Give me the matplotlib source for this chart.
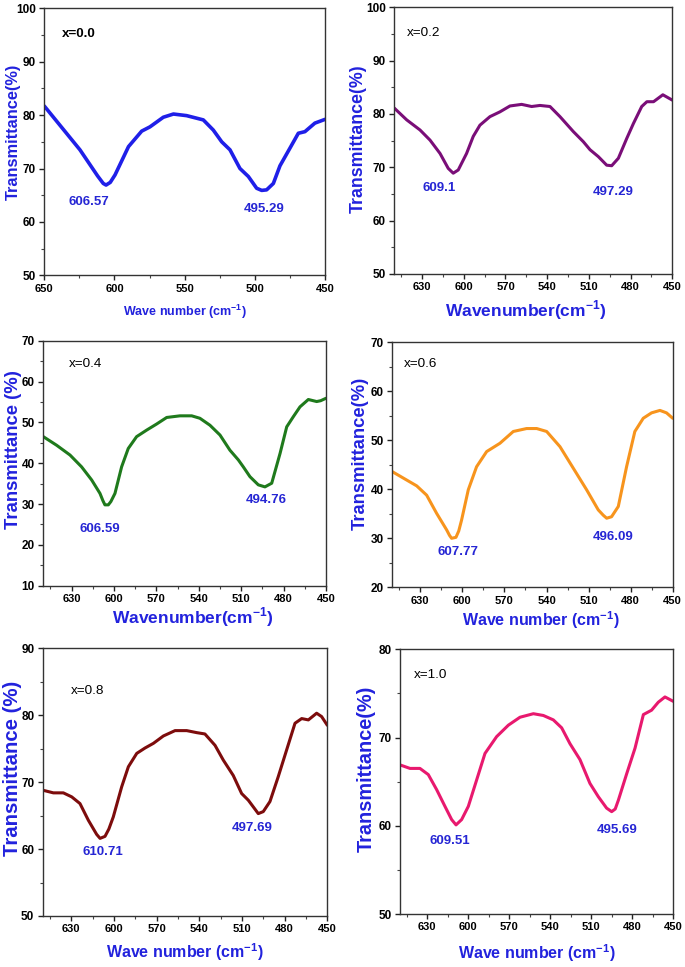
import matplotlib
matplotlib.use("Agg")
import matplotlib.pyplot as plt
from matplotlib.ticker import MultipleLocator, FixedLocator

plt.rcParams['font.family'] = ['Liberation Sans', 'DejaVu Sans']
plt.rcParams['mathtext.fontset'] = 'custom'
plt.rcParams['mathtext.rm'] = 'Liberation Sans'
plt.rcParams['mathtext.bf'] = 'Liberation Sans:bold'

W, H = 685, 967

# ---------------- data ----------------
x00 = [650, 624.6, 612, 608, 606, 603, 599.6, 590, 580.6, 574.7, 565.2, 558, 548.6, 536.7, 529.6,
       523.6, 517.7, 510.6, 504.6, 498.7, 495.1, 491.6, 486.8, 482.1, 475, 469, 464.3, 457.2, 450]
y00 = [81.7, 73.5, 68.6, 67.2, 66.9, 67.4, 68.8, 74.1, 77.0, 77.8, 79.6, 80.2, 79.9, 79.1, 77.2,
       75.0, 73.5, 70.0, 68.5, 66.3, 65.9, 66.0, 67.2, 70.5, 73.8, 76.6, 76.9, 78.5, 79.2]

x02 = [650, 641.1, 631.5, 624.3, 617.1, 611.2, 607.6, 604, 598, 593.2, 588.4, 581.2, 574, 566.8,
       558.4, 551.2, 545.2, 538, 530.8, 521.2, 514, 509.2, 503.2, 497.2, 493.6, 488.8, 482.8,
       478, 472, 468.3, 463.5, 456.8, 450]
y02 = [81.1, 78.9, 77.0, 75.1, 72.6, 69.8, 68.9, 69.5, 72.6, 75.8, 77.9, 79.5, 80.4, 81.5,
       81.8, 81.4, 81.6, 81.4, 79.5, 76.7, 74.8, 73.3, 72.0, 70.4, 70.3, 71.7, 75.4,
       78.2, 81.4, 82.3, 82.3, 83.6, 82.6]

x04 = [650, 640.6, 631.1, 622.9, 615.8, 609.9, 607.8, 606.4, 604, 602.2, 599.3, 594.6, 589.9, 584,
       576.9, 569.8, 562.7, 553.3, 545, 539.2, 532.1, 525, 518, 512, 508.5, 503.8, 497.9, 493.2,
       488.4, 482.5, 477.8, 473.1, 468.4, 462.5, 456.6, 453.8, 450]
y04 = [46.5, 44.4, 42.0, 39.1, 35.9, 32.6, 30.8, 29.8, 29.8, 30.6, 32.6, 39.1, 43.6, 46.5,
       48.1, 49.6, 51.2, 51.6, 51.6, 51.0, 49.3, 46.9, 43.2, 40.8, 39.1, 36.7, 34.7, 34.2,
       35.1, 42.4, 48.9, 51.4, 53.8, 55.6, 55.1, 55.3, 55.9]

x06 = [650, 639.8, 632.6, 625.5, 618.4, 611.2, 609.2, 607.7, 604.6, 602.6, 600.6, 595.8, 589.9,
       582.7, 573.2, 563.7, 554.2, 547.0, 539.9, 530.4, 520.9, 511.4, 503.1, 499.5, 497.1, 493.6,
       488.8, 482.9, 477, 471, 465.1, 459.1, 454.4, 450]
y06 = [43.6, 41.9, 40.7, 38.8, 35.1, 31.7, 30.6, 30.0, 30.2, 31.5, 33.7, 39.9, 44.6,
       47.7, 49.4, 51.8, 52.4, 52.4, 51.8, 48.7, 44.3, 39.9, 35.8, 34.7, 34.1, 34.4,
       36.5, 44.6, 51.8, 54.5, 55.6, 56.1, 55.6, 54.5]

x08 = [650, 642.5, 635.5, 629.6, 623.8, 617.9, 612.1, 609.7, 606.2, 603.5, 600.4, 594.5, 589.8,
       583.9, 578.1, 572.2, 565.2, 557.0, 548.8, 541.8, 536.0, 528.9, 523.1, 516.1, 510.2, 505.5,
       498.5, 495.0, 490.3, 484.5, 478.6, 472.7, 468.0, 463.3, 457.5, 454.0, 450]
y08 = [68.8, 68.4, 68.4, 67.8, 66.8, 64.3, 62.2, 61.6, 61.9, 63.0, 64.8, 69.3, 72.3,
       74.3, 75.1, 75.8, 76.9, 77.7, 77.7, 77.4, 77.2, 75.5, 73.3, 71.0, 68.3, 67.3,
       65.3, 65.6, 67.1, 70.8, 74.8, 78.8, 79.5, 79.3, 80.3, 79.8, 78.5]

x10 = [650, 642.7, 635.4, 629.3, 623.2, 617.1, 612.2, 609.0, 604.9, 600.0, 593.9, 587.8, 579.3,
       570.7, 562.2, 552.4, 545.1, 537.8, 531.7, 525.6, 518.3, 511.0, 504.9, 498.8, 495.1, 492.5,
       490.2, 484.1, 478.0, 471.9, 465.9, 461.0, 456.1, 450]
y10 = [66.9, 66.5, 66.5, 65.8, 64.1, 62.2, 60.7, 60.1, 60.7, 62.2, 65.2, 68.2, 70.1,
       71.4, 72.3, 72.7, 72.5, 72.0, 71.1, 69.3, 67.5, 64.8, 63.3, 62.0, 61.6, 61.9,
       62.9, 65.9, 68.8, 72.6, 73.1, 74.0, 74.6, 74.1]

sample_labels = ["x=0.0", "x=0.2", "x=0.4", "x=0.6", "x=0.8", "x=1.0"]
peak_labels = [("606.57", "495.29"), ("609.1", "497.29"), ("606.59", "494.76"),
               ("607.77", "496.09"), ("610.71", "497.69"), ("609.51", "495.69")]
y_labels = ["Transmittance(%)", "Transmittance(%)", "Transmittance (%)",
            "Transmittance(%)", "Transmittance (%)", "Transmittance(%)"]
x_labels = [r"Wave number (cm$^{\mathbf{-1}}$)", r"Wavenumber(cm$^{\mathbf{-1}}$)",
            r"Wavenumber(cm$^{\mathbf{-1}}$)", r"Wave number (cm$^{\mathbf{-1}}$)",
            r"Wave number (cm$^{\mathbf{-1}}$)", r"Wave number (cm$^{\mathbf{-1}}$)"]

# ---------------- layout / style ----------------
panels = [
    dict(x=x00, y=y00, box=(44.3, 8.3, 325, 275.3), ylim=(50, 100), color='#1f1fe8',
         xmaj=[650, 600, 550, 500, 450], xmin=25, ylfs=11.8, xlfs=9, lw=2.6,
         ylpos=(13, 132), xlpos=(185, 312),
         sl_pos=(637.6, 95.1), sl_bold=True,
         pk=((618.4, 63.8), (493.5, 62.5))),
    dict(x=x02, y=y02, box=(394.3, 7.3, 672.3, 274), ylim=(50, 100), color='#7a0e78',
         xmaj=[630, 600, 570, 540, 510, 480, 450], xmin=15, ylfs=12.8, xlfs=12.5, lw=2.2,
         ylpos=(358, 139), xlpos=(526, 310),
         sl_pos=(641.1, 95.1), sl_bold=False,
         pk=((617.9, 66.1), (492.4, 65.3))),
    dict(x=x04, y=y04, box=(43.3, 340.7, 326, 585.7), ylim=(10, 70), color='#1f7a1c',
         xmaj=[630, 600, 570, 540, 510, 480, 450], xmin=15, ylfs=13.3, xlfs=12.5, lw=2.2,
         ylpos=(14, 450), xlpos=(193, 617),
         sl_pos=(631.6, 64.4), sl_bold=False,
         pk=((609.9, 23.8), (492.2, 31.0))),
    dict(x=x06, y=y06, box=(392.3, 342.3, 672.7, 587.3), ylim=(20, 70), color='#f7941d',
         xmaj=[630, 600, 570, 540, 510, 480, 450], xmin=15, ylfs=13.2, xlfs=11.5, lw=2.2,
         ylpos=(360, 453), xlpos=(541, 620),
         sl_pos=(641.7, 65.5), sl_bold=False,
         pk=((602.9, 27.3), (492.8, 30.3))),
    dict(x=x08, y=y08, box=(42.7, 648.3, 327.3, 916), ylim=(50, 90), color='#7d0c0c',
         xmaj=[630, 600, 570, 540, 510, 480, 450], xmin=15, ylfs=14.7, xlfs=11.5, lw=2.2,
         ylpos=(13, 768), xlpos=(185, 952),
         sl_pos=(630.3, 83.6), sl_bold=False,
         pk=((607.4, 59.6), (502.7, 63.1))),
    dict(x=x10, y=y10, box=(400, 649.3, 673.3, 914), ylim=(50, 80), color='#e8196e',
         xmaj=[630, 600, 570, 540, 510, 480, 450], xmin=15, ylfs=14.3, xlfs=11.5, lw=2.2,
         ylpos=(366, 769), xlpos=(537, 953),
         sl_pos=(639.8, 77.1), sl_bold=False,
         pk=((613.4, 58.3), (491.0, 59.5))),
]

label_blue = '#2222dd'
peak_blue = '#2626d4'

fig = plt.figure(figsize=(W / 100, H / 100), dpi=100)

for i, p in enumerate(panels):
    l, t, r, b = p['box']
    ax = fig.add_axes([l / W, 1 - b / H, (r - l) / W, (b - t) / H])
    ax.plot(p['x'], p['y'], color=p['color'], lw=p['lw'], solid_joinstyle='round',
            solid_capstyle='round')
    ax.set_xlim(650, 450)
    ax.set_ylim(*p['ylim'])
    ax.xaxis.set_major_locator(FixedLocator(p['xmaj']))
    ax.xaxis.set_minor_locator(MultipleLocator(p['xmin']))
    ax.yaxis.set_major_locator(MultipleLocator(10))
    ax.yaxis.set_minor_locator(MultipleLocator(5))
    ax.tick_params(which='major', direction='out', length=3.5, width=1, colors='#222222',
                   top=False, right=False, pad=2.5)
    ax.tick_params(which='minor', direction='out', length=2.2, width=0.8,
                   top=False, right=False, colors='#444444')
    ax.tick_params(axis='y', labelsize=8.5)
    ax.tick_params(axis='x', labelsize=8)
    for lab in ax.get_xticklabels() + ax.get_yticklabels():
        lab.set_fontweight('bold')
        lab.set_color('black')
    for s in ax.spines.values():
        s.set_color('#333333')
        s.set_linewidth(1.0)
    ax.set_ylabel(y_labels[i], color=label_blue, fontsize=p['ylfs'], fontweight='bold')
    ax.set_xlabel(x_labels[i], color=label_blue, fontsize=p['xlfs'], fontweight='bold')
    yx, yy = p['ylpos']
    ax.yaxis.set_label_coords((yx - l) / (r - l), (b - yy) / (b - t))
    ax.yaxis.label.set_va('center')
    xx, xy = p['xlpos']
    ax.xaxis.set_label_coords((xx - l) / (r - l), (b - xy) / (b - t))
    ax.xaxis.label.set_va('center')
    sx, sy = p['sl_pos']
    ax.text(sx, sy, sample_labels[i], fontsize=9.7,
            fontweight='bold' if p['sl_bold'] else 'normal', color='black',
            ha='left', va='center')
    for (px, py), txt in zip(p['pk'], peak_labels[i]):
        ax.text(px, py, txt, fontsize=9.5, fontweight='bold', color=peak_blue,
                ha='center', va='center')

fig.savefig('out.png', dpi=100)
